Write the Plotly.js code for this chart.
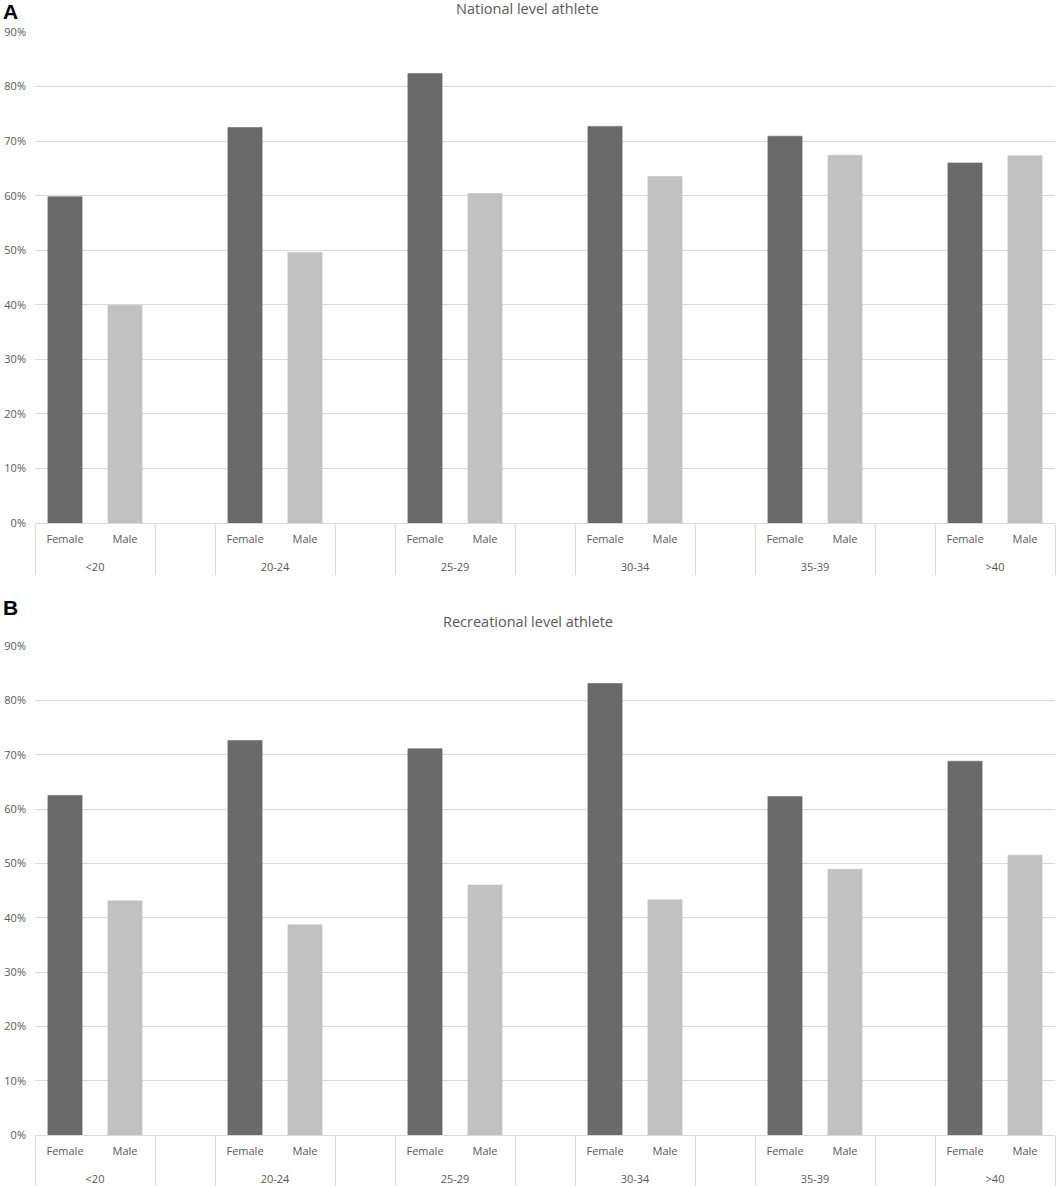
<!DOCTYPE html>
<html>
<head>
<meta charset="utf-8">
<script src="https://cdn.plot.ly/plotly-3.0.1.min.js"></script>
<style>
  html, body { margin: 0; padding: 0; background: #fff; }
  #chart { width: 1056px; height: 1186px; }
</style>
</head>
<body>
<div id="chart"></div>
<script>
// age groups and shares (%)
var ageGroups = ['<20', '20-24', '25-29', '30-34', '35-39', '>40'];
var sexes = ['Female', 'Male'];

var nationalFemale = [59.8, 72.5, 82.4, 72.7, 70.9, 66.0];
var nationalMale = [39.9, 49.6, 60.4, 63.5, 67.4, 67.3];

var recreationalFemale = [62.5, 72.6, 71.1, 83.1, 62.3, 68.8];
var recreationalMale = [43.1, 38.7, 46.0, 43.3, 48.9, 51.5];

var femaleColor = '#6a6a6a';
var maleColor = '#c1c1c1';

// empty slot label: a taller blank so the second label row sits lower
var gapLabel = '<span style="font-size:23px">\u00a0</span>';

// Excel style: Female, Male, then an empty slot between age groups
function buildTrace(female, male, xa, ya) {
  var parents = [], children = [], y = [], colors = [];
  for (var i = 0; i < ageGroups.length; i++) {
    parents.push(ageGroups[i], ageGroups[i]);
    children.push(sexes[0], sexes[1]);
    y.push(female[i], male[i]);
    colors.push(femaleColor, maleColor);
    if (i < ageGroups.length - 1) {
      parents.push('\u00a0'.repeat(i + 1));
      children.push(gapLabel);
      y.push(null);
      colors.push(maleColor);
    }
  }
  return {
    type: 'bar',
    x: [parents, children],
    y: y,
    xaxis: xa,
    yaxis: ya,
    width: 0.57,
    marker: {color: colors, line: {color: colors, width: 0.6}},
    showlegend: false,
    hoverinfo: 'y'
  };
}

var data = [
  buildTrace(nationalFemale, nationalMale, 'x', 'y'),
  buildTrace(recreationalFemale, recreationalMale, 'x2', 'y2')
];

var gridCol = '#d9d9d9';
var txtCol = '#595959';

function xAxis(anchor) {
  return {
    type: 'multicategory',
    anchor: anchor,
    showline: true,
    linecolor: gridCol,
    linewidth: 1,
    ticks: '',
    ticklabelstandoff: 6,
    showdividers: true,
    dividercolor: gridCol,
    dividerwidth: 1,
    tickfont: {size: 11, color: txtCol},
    fixedrange: true
  };
}

function yAxis(domain, anchor) {
  return {
    domain: domain,
    anchor: anchor,
    range: [0, 90],
    dtick: 10,
    ticksuffix: '%',
    showgrid: true,
    gridcolor: gridCol,
    gridwidth: 1,
    zeroline: false,
    ticks: '',
    ticklabelstandoff: 8,
    tickfont: {size: 11, color: txtCol},
    fixedrange: true
  };
}

var layout = {
  width: 1056,
  height: 1186,
  margin: {l: 35, r: 1, t: 32, b: 51},
  paper_bgcolor: '#fff',
  plot_bgcolor: '#fff',
  font: {family: '"Open Sans", sans-serif', color: txtCol},
  barmode: 'overlay',
  xaxis: xAxis('y'),
  yaxis: yAxis([0.5548, 1], 'x'),
  xaxis2: xAxis('y2'),
  yaxis2: yAxis([0, 0.4433], 'x2'),
  annotations: [
    {text: '<b>A</b>', xref: 'paper', yref: 'paper', x: -0.033, y: 1.0185,
     xanchor: 'left', yanchor: 'middle', showarrow: false,
     font: {family: 'Liberation Sans, Arial, sans-serif', size: 21, color: '#000'}},
    {text: 'National level athlete', xref: 'paper', yref: 'paper', x: 0.4833, y: 1.0215,
     xanchor: 'center', yanchor: 'middle', showarrow: false,
     font: {size: 14.5, color: txtCol}},
    {text: '<b>B</b>', xref: 'paper', yref: 'paper', x: -0.033, y: 0.4785,
     xanchor: 'left', yanchor: 'middle', showarrow: false,
     font: {family: 'Liberation Sans, Arial, sans-serif', size: 21, color: '#000'}},
    {text: 'Recreational level athlete', xref: 'paper', yref: 'paper', x: 0.4833, y: 0.4655,
     xanchor: 'center', yanchor: 'middle', showarrow: false,
     font: {size: 14.5, color: txtCol}}
  ]
};

Plotly.newPlot('chart', data, layout, {displayModeBar: false, staticPlot: true});
</script>
</body>
</html>
